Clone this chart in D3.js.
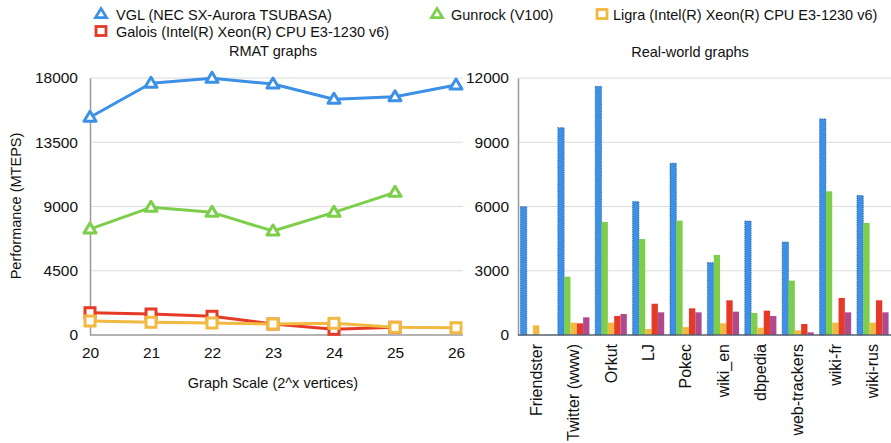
<!DOCTYPE html>
<html>
<head>
<meta charset="utf-8">
<script src="https://cdn.jsdelivr.net/npm/d3@7"></script>
<style>
  html, body { margin: 0; padding: 0; background: #fff; }
  svg { display: block; font-family: "Liberation Sans", Arial, Helvetica, sans-serif; }
</style>
</head>
<body>
<svg id="chart" width="891" height="443"></svg>
<script>
// ---- RMAT graphs (line chart) ----
const scales = [20, 21, 22, 23, 24, 25, 26];
const vglRmat     = [15250, 17630, 17980, 17580, 16510, 16690, 17510];
const gunrockRmat = [7420, 8940, 8590, 7280, 8590, 9990, null];
const galoisRmat  = [1560, 1470, 1310, 770, 400, 540, null];
const ligraRmat   = [980, 890, 840, 770, 820, 540, 510];
const rmatTicks   = [0, 4500, 9000, 13500, 18000];

// ---- Real-world graphs (grouped bars) ----
const graphs = ["Friendster", "Twitter (www)", "Orkut", "LJ", "Pokec", "wiki_en",
                "dbpedia", "web-trackers", "wiki-fr", "wiki-rus"];
const vglReal     = [5990, 9680, 11610, 6230, 8020, 3380, 5320, 4340, 10090, 6510];
const gunrockReal = [0, 2720, 5280, 4480, 5340, 3740, 1030, 2540, 6710, 5230];
const ligraReal   = [450, 575, 575, 280, 370, 546, 342, 218, 575, 575];
const galoisReal  = [0, 545, 890, 1460, 1245, 1620, 1136, 514, 1730, 1620];
const fifthReal   = [0, 826, 980, 1058, 1058, 1090, 887, 124, 1058, 1058];
const realTicks   = [0, 3000, 6000, 9000, 12000];

const colors = {
  vgl: "#3c90e6",
  gunrock: "#7dcf4b",
  ligra: "#f2b940",
  galois: "#e63a26",
  fifth: "#b04a8e"
};

const svg = d3.select("#chart");
const gridColor = "#dcdcdc";
const axisColor = "#9a9a9a";
const fontFamily = "Liberation Sans, Arial, sans-serif";

// open triangle marker, slightly wider than tall
function triangle(w, h) {
  return `M0,${-h * 0.6}L${w / 2},${h * 0.4}L${-w / 2},${h * 0.4}Z`;
}

// ---------- Legend ----------
const legend = [
  { label: "VGL (NEC SX-Aurora TSUBASA)", color: colors.vgl, shape: "tri", x: 101, y: 14, dx: 15 },
  { label: "Gunrock (V100)", color: colors.gunrock, shape: "tri", x: 437, y: 14, dx: 14 },
  { label: "Ligra (Intel(R) Xeon(R) CPU E3-1230 v6)", color: colors.ligra, shape: "sq", x: 602, y: 14, dx: 11 },
  { label: "Galois (Intel(R) Xeon(R) CPU E3-1230 v6)", color: colors.galois, shape: "sq", x: 101, y: 31, dx: 15 }
];
const lg = svg.append("g").attr("class", "legend");
legend.forEach(d => {
  const item = lg.append("g").attr("transform", `translate(${d.x},${d.y})`);
  if (d.shape === "tri") {
    item.append("path").attr("d", triangle(11, 9))
      .attr("fill", "#fff").attr("stroke", d.color).attr("stroke-width", 2.8);
  } else {
    item.append("rect").attr("x", -5).attr("y", -4.5).attr("width", 10).attr("height", 9)
      .attr("fill", "#fff").attr("stroke", d.color).attr("stroke-width", 2.8);
  }
  item.append("text").attr("x", d.dx).attr("y", 5.5)
    .attr("font-size", 14.5).attr("fill", "#111").text(d.label);
});

// ---------- Left: RMAT line chart ----------
const L = { left: 90, right: 463, top: 78, bottom: 335 };
const xL = d3.scaleLinear().domain([20, 26]).range([L.left, 456]);
const yL = d3.scaleLinear().domain([0, 18000]).range([L.bottom, L.top]);

svg.append("text").attr("x", 273).attr("y", 56).attr("text-anchor", "middle")
  .attr("font-size", 14.5).attr("fill", "#111").text("RMAT graphs");

const left = svg.append("g");
left.append("g").selectAll("line").data(rmatTicks.filter(t => t > 0)).join("line")
  .attr("x1", L.left).attr("x2", L.right)
  .attr("y1", d => yL(d)).attr("y2", d => yL(d))
  .attr("stroke", gridColor).attr("stroke-width", 1.2);

const yAxisL = left.append("g").attr("transform", `translate(${L.left},0)`)
  .call(d3.axisLeft(yL).tickValues(rmatTicks).tickFormat(d3.format("d")).tickSize(0).tickPadding(12));
yAxisL.select(".domain").attr("stroke", axisColor).attr("stroke-width", 1.5);
yAxisL.selectAll("text").attr("font-size", 15.5).attr("fill", "#111").attr("font-family", fontFamily);

const xAxisL = left.append("g").attr("transform", `translate(0,${L.bottom})`)
  .call(d3.axisBottom(xL).tickValues(scales).tickFormat(d3.format("d")).tickSize(0).tickPadding(12));
xAxisL.select(".domain").attr("d", `M${L.left},0H${L.right}`).attr("stroke", axisColor).attr("stroke-width", 1.5);
xAxisL.selectAll("text").attr("font-size", 15.5).attr("fill", "#111").attr("font-family", fontFamily);

svg.append("text").attr("x", 273).attr("y", 388).attr("text-anchor", "middle")
  .attr("font-size", 14.5).attr("fill", "#111").text("Graph Scale (2^x vertices)");
svg.append("text").attr("transform", "translate(21,206) rotate(-90)").attr("text-anchor", "middle")
  .attr("font-size", 14.5).attr("fill", "#111").text("Performance (MTEPS)");

const series = [
  { vals: vglRmat, color: colors.vgl, shape: "tri" },
  { vals: gunrockRmat, color: colors.gunrock, shape: "tri" },
  { vals: galoisRmat, color: colors.galois, shape: "sq" },
  { vals: ligraRmat, color: colors.ligra, shape: "sq" }
];
const line = d3.line().x(d => xL(d[0])).y(d => yL(d[1]));
series.forEach(s => {
  const pts = scales.map((x, i) => [x, s.vals[i]]).filter(d => d[1] != null);
  const g = left.append("g");
  g.append("path").datum(pts).attr("d", line).attr("fill", "none")
    .attr("stroke", s.color).attr("stroke-width", 3).attr("stroke-linejoin", "round");
  if (s.shape === "tri") {
    g.selectAll("path.m").data(pts).join("path").attr("class", "m")
      .attr("d", triangle(12, 10))
      .attr("transform", d => `translate(${xL(d[0])},${yL(d[1])})`)
      .attr("fill", "#fff").attr("stroke", s.color).attr("stroke-width", 3)
      .attr("stroke-linejoin", "round");
  } else {
    g.selectAll("rect").data(pts).join("rect")
      .attr("x", d => xL(d[0]) - 5).attr("y", d => yL(d[1]) - 5)
      .attr("width", 10).attr("height", 10)
      .attr("fill", "#fff").attr("stroke", s.color).attr("stroke-width", 3);
  }
});

// ---------- Right: real-world grouped bars ----------
const R = { left: 518, right: 891, top: 78, bottom: 335 };
const xR = d3.scaleBand().domain(graphs).range([R.left, R.right]).paddingInner(0.155).paddingOuter(0.065);
const keys = ["vgl", "gunrock", "ligra", "galois", "fifth"];
const barData = { vgl: vglReal, gunrock: gunrockReal, ligra: ligraReal, galois: galoisReal, fifth: fifthReal };
const xSub = d3.scaleBand().domain(keys).range([0, xR.bandwidth()]);
const yR = d3.scaleLinear().domain([0, 12000]).range([R.bottom, R.top]);

svg.append("text").attr("x", 690).attr("y", 57).attr("text-anchor", "middle")
  .attr("font-size", 14.5).attr("fill", "#111").text("Real-world graphs");

const right = svg.append("g");
right.append("g").selectAll("line").data(realTicks.filter(t => t > 0)).join("line")
  .attr("x1", R.left).attr("x2", R.right)
  .attr("y1", d => yR(d)).attr("y2", d => yR(d))
  .attr("stroke", gridColor).attr("stroke-width", 1.2);

const yAxisR = right.append("g").attr("transform", `translate(${R.left},0)`)
  .call(d3.axisLeft(yR).tickValues(realTicks).tickFormat(d3.format("d")).tickSize(0).tickPadding(9));
yAxisR.select(".domain").attr("stroke", axisColor).attr("stroke-width", 1.5);
yAxisR.selectAll("text").attr("font-size", 15.5).attr("fill", "#111").attr("font-family", fontFamily);

const groups = right.append("g").selectAll("g").data(graphs).join("g")
  .attr("transform", d => `translate(${xR(d)},0)`);
groups.selectAll("rect").data((g, gi) => keys.map(k => ({ k, v: barData[k][gi] })).filter(d => d.v > 0))
  .join("rect")
  .attr("x", d => xSub(d.k)).attr("width", xSub.bandwidth())
  .attr("y", d => yR(d.v)).attr("height", d => yR(0) - yR(d.v))
  .attr("fill", d => colors[d.k])
  .attr("stroke", d => d.k === "vgl" ? "#1f4f8a" : "none")
  .attr("stroke-width", 0.7)
  .attr("stroke-dasharray", "1.2,1");

const xAxisR = right.append("g").attr("transform", `translate(0,${R.bottom})`)
  .call(d3.axisBottom(xR).tickSize(0).tickPadding(0));
xAxisR.select(".domain").attr("d", `M${R.left},0H${R.right}`).attr("stroke", "#55606e").attr("stroke-width", 1.5);
xAxisR.selectAll("text")
  .attr("font-size", 16).attr("fill", "#111").attr("font-family", fontFamily)
  .attr("text-anchor", "end").attr("dy", null)
  .attr("transform", "translate(0,9) rotate(-90)")
  .attr("x", 0).attr("y", 0).attr("dominant-baseline", "central");
</script>
</body>
</html>
